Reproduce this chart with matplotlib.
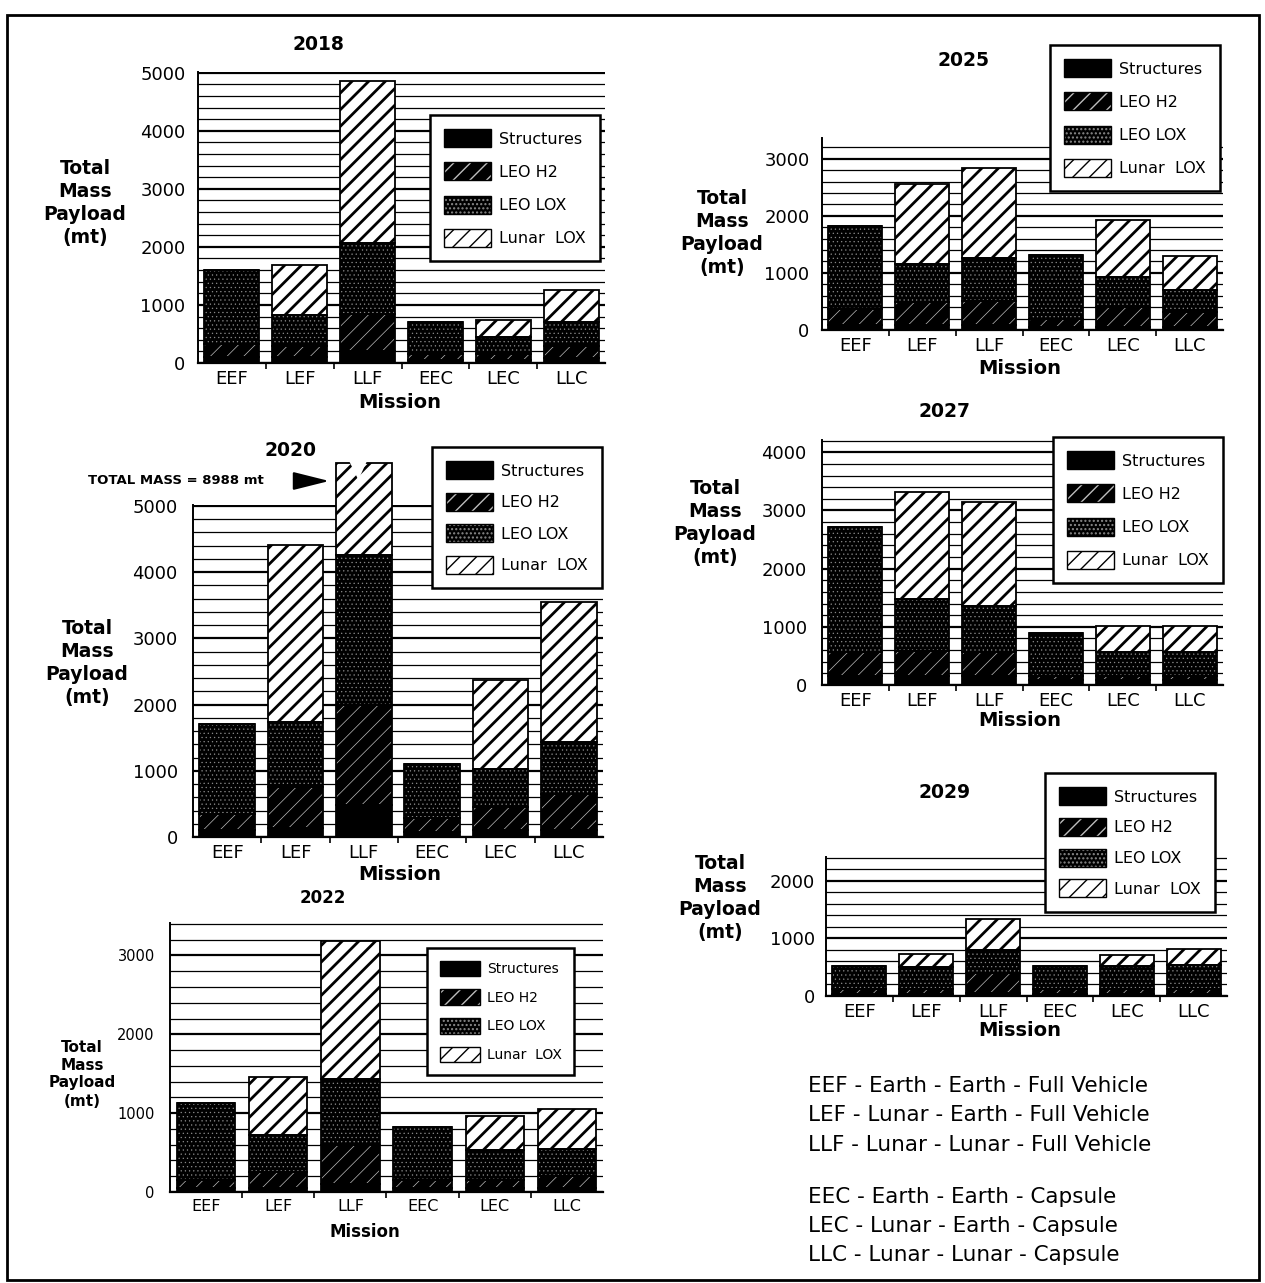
import numpy as np
import matplotlib
matplotlib.use("Agg")
import matplotlib.pyplot as plt
from matplotlib.patches import Patch, Rectangle, Polygon, FancyArrowPatch
from matplotlib.ticker import MultipleLocator, FixedLocator

W, H, DPI = 1265, 1283, 100
plt.rcParams["font.family"] = ["DejaVu Sans"]

# ---------------- data ----------------
missions = ["EEF", "LEF", "LLF", "EEC", "LEC", "LLC"]
series_names = ["Structures", "LEO H2", "LEO LOX", "Lunar  LOX"]

structures_2018 = [100, 100, 200, 50, 50, 80]
leo_h2_2018 = [220, 200, 650, 100, 100, 220]
leo_lox_2018 = [1290, 530, 1220, 550, 300, 400]
lunar_lox_2018 = [0, 850, 2780, 0, 290, 560]

structures_2020 = [100, 130, 480, 80, 100, 100]
leo_h2_2020 = [250, 620, 1510, 200, 350, 550]
leo_lox_2020 = [1360, 980, 2260, 820, 570, 790]
lunar_lox_2020 = [0, 2680, 4738, 0, 1350, 2110]
total_llf_2020 = 8988

structures_2022 = [50, 50, 100, 50, 50, 50]
leo_h2_2022 = [100, 200, 500, 100, 100, 150]
leo_lox_2022 = [980, 470, 830, 670, 380, 350]
lunar_lox_2022 = [0, 740, 1750, 0, 440, 500]

structures_2025 = [80, 80, 80, 60, 60, 60]
leo_h2_2025 = [290, 410, 430, 140, 340, 260]
leo_lox_2025 = [1450, 670, 750, 1120, 525, 385]
lunar_lox_2025 = [0, 1400, 1570, 0, 995, 595]

structures_2027 = [150, 150, 150, 80, 80, 80]
leo_h2_2027 = [410, 430, 410, 70, 70, 70]
leo_lox_2027 = [2160, 900, 800, 750, 410, 410]
lunar_lox_2027 = [0, 1840, 1780, 0, 460, 460]

structures_2029 = [40, 40, 60, 40, 40, 40]
leo_h2_2029 = [80, 80, 340, 80, 80, 80]
leo_lox_2029 = [405, 380, 390, 400, 395, 425]
lunar_lox_2029 = [0, 230, 550, 0, 195, 270]

footnotes = ["EEF - Earth - Earth - Full Vehicle",
             "LEF - Lunar - Earth - Full Vehicle",
             "LLF - Lunar - Lunar - Full Vehicle",
             "EEC - Earth - Earth - Capsule",
             "LEC - Lunar - Earth - Capsule",
             "LLC - Lunar - Lunar - Capsule"]

# ---------------- styles ----------------
STYLES = {
    "Structures": dict(fc="black", hc="black", hatch=None, hlw=1.0),
    "LEO H2": dict(fc="black", hc="#bdbdbd", hatch="//", hlw=0.5),
    "LEO LOX": dict(fc="black", hc="#8a8a8a", hatch="....", hlw=0.4),
    "Lunar  LOX": dict(fc="white", hc="black", hatch="//", hlw=2.0),
}
BAR_W = 0.81


def fx(x):
    return x / W


def fy(y):
    return 1 - y / H


def px_rect(l, t, r, b):
    return [l / W, 1 - b / H, (r - l) / W, (b - t) / H]


def set_hlw(p, lw):
    if hasattr(p, "set_hatch_linewidth"):
        p.set_hatch_linewidth(lw)


panels = [
    dict(year="2018", data=[structures_2018, leo_h2_2018, leo_lox_2018, lunar_lox_2018],
         rect=(198, 72, 605, 363), ytop=5000, title=(318, 44), ylab=(85, 203), mission=(400, 402),
         leg=(430, 115), tick_fs=13, xt_fs=13, lab_fs=13.5, leg_fs=11.5, ttl_fs=13.5, ms_fs=14,
         ypad=9, lsp=0.95),
    dict(year="2020", data=[structures_2020, leo_h2_2020, leo_lox_2020, lunar_lox_2020],
         rect=(193, 505, 603, 837), ytop=5000, title=(290, 450), ylab=(87, 663), mission=(400, 875),
         leg=(432, 447), tick_fs=13, xt_fs=13, lab_fs=13.5, leg_fs=11.5, ttl_fs=13.5, ms_fs=14,
         ypad=11, lsp=0.85, cap=5650),
    dict(year="2022", data=[structures_2022, leo_h2_2022, leo_lox_2022, lunar_lox_2022],
         rect=(170, 923, 603, 1192), ytop=3400, title=(323, 898), ylab=(82, 1074), mission=(365, 1232),
         leg=(427, 948), tick_fs=10.5, xt_fs=11.5, lab_fs=11, leg_fs=10, ttl_fs=12, ms_fs=12,
         ypad=11, lsp=0.95),
    dict(year="2025", data=[structures_2025, leo_h2_2025, leo_lox_2025, lunar_lox_2025],
         rect=(822, 138, 1223, 330), ytop=3350, title=(963, 60), ylab=(722, 233), mission=(1020, 369),
         leg=(1050, 45), tick_fs=13, xt_fs=13, lab_fs=13.5, leg_fs=11.5, ttl_fs=13.5, ms_fs=14,
         ypad=9, lsp=0.95),
    dict(year="2027", data=[structures_2027, leo_h2_2027, leo_lox_2027, lunar_lox_2027],
         rect=(822, 440, 1223, 685), ytop=4200, title=(945, 412), ylab=(715, 523), mission=(1020, 720),
         leg=(1053, 437), tick_fs=13, xt_fs=13, lab_fs=13.5, leg_fs=11.5, ttl_fs=13.5, ms_fs=14,
         ypad=11, lsp=0.95),
    dict(year="2029", data=[structures_2029, leo_h2_2029, leo_lox_2029, lunar_lox_2029],
         rect=(826, 857, 1227, 996), ytop=2400, title=(945, 793), ylab=(720, 898), mission=(1020, 1030),
         leg=(1045, 773), tick_fs=13, xt_fs=13, lab_fs=13.5, leg_fs=11.5, ttl_fs=13.5, ms_fs=14,
         ypad=8, lsp=0.8),
]

fig = plt.figure(figsize=(W / DPI, H / DPI), dpi=DPI)
fig.patch.set_facecolor("white")

# outer border
fig.add_artist(Rectangle((fx(7), fy(1280)), (1259 - 7) / W, (1280 - 15) / H,
                         transform=fig.transFigure, fill=False, ec="black", lw=2.0))

for cfg in panels:
    ax = fig.add_axes(px_rect(*cfg["rect"]))
    x = np.arange(len(missions))
    bottom = np.zeros(len(missions))
    cap = cfg.get("cap")
    for name, vals in zip(series_names, cfg["data"]):
        h = np.asarray(vals, dtype=float)
        if cap is not None:
            h = np.minimum(bottom + h, cap) - bottom
        st = STYLES[name]
        with plt.rc_context({"hatch.linewidth": st["hlw"]}):
            fill = ax.bar(x, h, bottom=bottom, width=BAR_W, color=st["fc"], edgecolor=st["hc"],
                          hatch=st["hatch"], linewidth=0, zorder=2)
        for p in fill:
            set_hlw(p, st["hlw"])
            p.set_clip_on(False)
        outl = ax.bar(x, h, bottom=bottom, width=BAR_W, fill=False, edgecolor="black",
                      linewidth=1.3, zorder=3)
        for p in outl:
            p.set_clip_on(False)
        bottom = bottom + h

    if cap is not None:
        # axis-break notch on the truncated LLF bar
        i = missions.index("LLF")
        notch = Polygon([(i - 0.24, cap + 80), (i - 0.08, cap - 260), (i + 0.07, cap + 80)],
                        closed=True, fc="white", ec="none", zorder=4, clip_on=False)
        ax.add_patch(notch)
        fig.text(fx(88), fy(481), f"TOTAL MASS = {total_llf_2020} mt", fontsize=9.5,
                 fontweight="bold", ha="left", va="center")
        fig.add_artist(FancyArrowPatch(
            (fx(297), fy(481)), (fx(332), fy(481)), transform=fig.transFigure,
            arrowstyle="-|>,head_length=1.4,head_width=0.35", mutation_scale=16,
            color="black", lw=1.5))

    ax.set_xlim(-0.5, len(missions) - 0.5)
    ax.set_ylim(0, cfg["ytop"] + 12)
    ax.yaxis.set_major_locator(MultipleLocator(1000))
    ax.yaxis.set_minor_locator(MultipleLocator(200))
    ax.grid(which="major", axis="y", color="black", lw=1.6, zorder=0)
    ax.grid(which="minor", axis="y", color="black", lw=0.9, zorder=0)
    ax.set_axisbelow(True)
    ax.tick_params(axis="y", which="both", length=0, pad=cfg["ypad"], labelsize=cfg["tick_fs"])
    ax.set_xticks(x)
    ax.set_xticklabels(missions, fontsize=cfg["xt_fs"])
    ax.xaxis.set_minor_locator(FixedLocator(np.arange(0.5, len(missions) - 0.5, 1.0)))
    ax.tick_params(axis="x", which="major", length=0, pad=5)
    ax.tick_params(axis="x", which="minor", length=4, width=1.2, direction="out")
    for s in ("top", "right"):
        ax.spines[s].set_visible(False)
    ax.spines["left"].set_linewidth(1.4)
    ax.spines["bottom"].set_linewidth(1.6)
    ax.set_facecolor("white")

    fig.text(fx(cfg["title"][0]), fy(cfg["title"][1]), cfg["year"], fontsize=cfg["ttl_fs"],
             fontweight="bold", ha="center", va="center")
    fig.text(fx(cfg["ylab"][0]), fy(cfg["ylab"][1]), "Total\nMass\nPayload\n(mt)",
             fontsize=cfg["lab_fs"], fontweight="bold", ha="center", va="center", linespacing=1.25)
    fig.text(fx(cfg["mission"][0]), fy(cfg["mission"][1]), "Mission", fontsize=cfg["ms_fs"],
             fontweight="bold", ha="center", va="center")

    handles = []
    for name in series_names:
        st = STYLES[name]
        with plt.rc_context({"hatch.linewidth": st["hlw"]}):
            p1 = Patch(facecolor=st["fc"], edgecolor=st["hc"], hatch=st["hatch"], linewidth=0)
        set_hlw(p1, st["hlw"])
        p2 = Patch(facecolor="none", edgecolor="black", linewidth=1.0)
        handles.append((p1, p2))
    leg = ax.legend(handles, series_names, loc="upper left",
                    bbox_to_anchor=(fx(cfg["leg"][0]), fy(cfg["leg"][1])),
                    bbox_transform=fig.transFigure, borderaxespad=0, frameon=True,
                    fancybox=False, edgecolor="black", framealpha=1, facecolor="white",
                    fontsize=cfg["leg_fs"], handlelength=2.9, handleheight=1.35,
                    labelspacing=cfg["lsp"], handletextpad=0.5, borderpad=0.9)
    leg.get_frame().set_linewidth(1.8)
    leg.set_zorder(10)

# footnotes
fy_pos = [1086, 1115, 1145, 1197, 1226, 1255]
for t, yy in zip(footnotes, fy_pos):
    fig.text(fx(808), fy(yy), t, fontsize=15.5, ha="left", va="center")

fig.savefig("out.png", dpi=DPI, facecolor="white")
